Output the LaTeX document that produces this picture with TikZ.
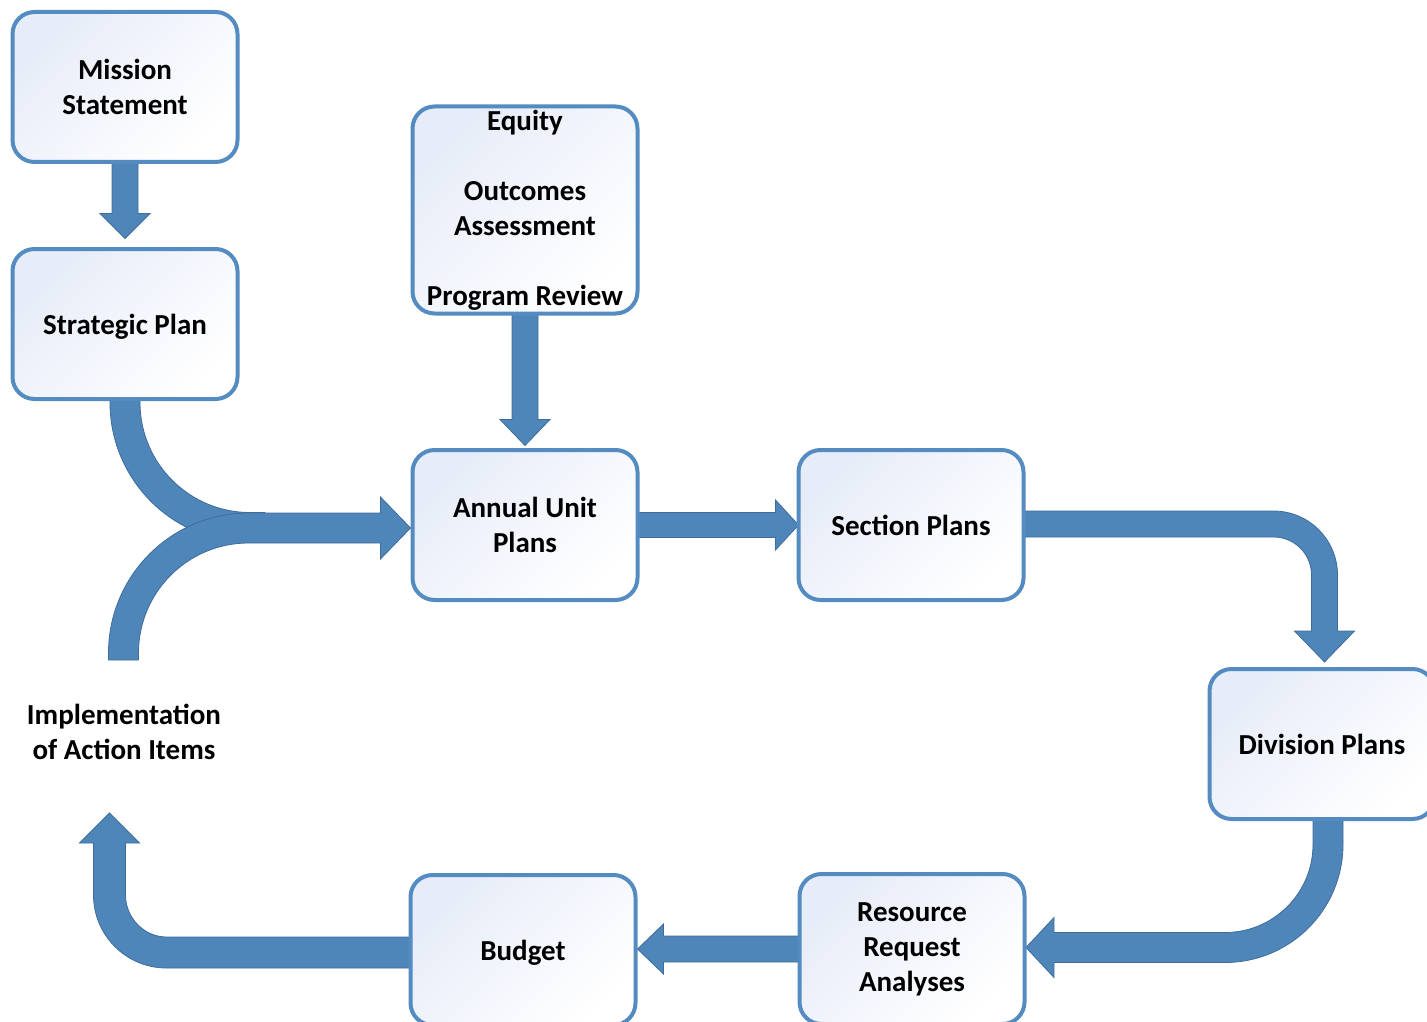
\documentclass[tikz,border=0pt]{standalone}
\usepackage{fontspec}
\setmainfont{Carlito}
\usetikzlibrary{calc}
\definecolor{arrowfill}{RGB}{79,134,186}
\definecolor{arrowedge}{RGB}{62,108,155}
\definecolor{boxedge}{RGB}{84,139,192}
\definecolor{boxtint}{RGB}{230,236,248}
\pgfdeclarelayer{bg}
\pgfsetlayers{bg,main}
\begin{document}
\begin{tikzpicture}[x=1pt,y=-1pt,
  lbl/.style={align=center, font=\fontsize{29}{35}\selectfont\bfseries, inner sep=0pt},
  box/.style={lbl, draw=boxedge, line width=4pt, rounded corners=22pt,
    minimum width=225pt, minimum height=150pt,
    top color=boxtint, bottom color=white, shading angle=45},
  blk/.style={fill=arrowfill, draw=arrowedge, line width=0.8pt, line join=miter}]
\useasboundingbox (0,0) rectangle (1427,1022);
\clip (0,0) rectangle (1427,1022);

% boxes
\node[box] (ms)  at (125,87)  {Mission\\Statement};
\node[box, text depth=0pt] (sp)  at (125,324) {Strategic Plan};
\node[box, minimum height=207pt] (eq) at (525,210)
  {Equity\\[35pt]Outcomes\\Assessment\\[35pt]Program Review};
\node[box] (au)  at (525,525) {Annual Unit\\Plans};
\node[box] (sec) at (911,525) {Section Plans};
\node[box] (div) at (1322,744) {Division Plans};
\node[box] (res) at (912,949) {Resource\\Request\\Analyses};
\node[box, text depth=0pt] (bud) at (523,950) {Budget};
\node[lbl] (impl) at (124,732) {Implementation\\of Action Items};

\begin{pgfonlayer}{bg}
% Mission -> Strategic
\begin{scope}[shift={(ms.south)}]
\path[blk] (-13,-2) -- (-13,49.5) -- (-25,49.5) -- (0,74.5) -- (25,49.5) -- (13,49.5) -- (13,-2) -- cycle;
\end{scope}
% Equity -> Annual
\begin{scope}[shift={(eq.south)}]
\path[blk] (-13,-2) -- (-13,104) -- (-25,104) -- (0,130) -- (25,104) -- (13,104) -- (13,-2) -- cycle;
\end{scope}
% Strategic -> Annual (curved band joining)
\begin{scope}[shift={(sp.south)}]
\path[blk] (-15,-3.5) -- (-15,1.5) .. controls (-15,78.8) and (47.7,141.5) .. (125,141.5)
  -- (140,141.5) -- (140,111.5) -- (125,111.5)
  .. controls (64.25,111.5) and (15,62.25) .. (15,1.5) -- (15,-3.5) -- cycle;
\end{scope}
% Implementation -> Annual
\begin{scope}[shift={(au.west)}]
\path[blk] (-302,135) -- (-302,128) .. controls (-302,50.7) and (-239.3,-12) .. (-162,-12)
  -- (-30,-12) -- (-30,-28) -- (0,3) -- (-30,34) -- (-30,18) -- (-162,18)
  .. controls (-222.75,18) and (-272,67.25) .. (-272,128) -- (-272,135) -- cycle;
\end{scope}
% Annual -> Section
\begin{scope}[shift={(au.east)}]
\path[blk] (-2,-12.5) -- (136,-12.5) -- (136,-25) -- (159,0) -- (136,25) -- (136,12.5) -- (-2,12.5) -- cycle;
\end{scope}
% Section -> Division
\begin{scope}[shift={(sec.east)}]
\path[blk] (-2,-14) -- (248,-14) .. controls (283.3,-14) and (312,14.7) .. (312,50)
  -- (312,106) -- (329,106) -- (299,137) -- (269,106) -- (286,106) -- (286,50)
  .. controls (286,29) and (269,12) .. (248,12) -- (-2,12) -- cycle;
\end{scope}
% Division -> Resource
\begin{scope}[shift={(div.south)}]
\path[blk] (-9,-2) -- (-9,23.5) .. controls (-9,72.1) and (-48.4,111.5) .. (-97,111.5)
  -- (-268,111.5) -- (-268,96.5) -- (-296,126.5) -- (-268,156.5) -- (-268,141.5) -- (-97,141.5)
  .. controls (-31.8,141.5) and (21,88.7) .. (21,23.5) -- (21,-2) -- cycle;
\end{scope}
% Resource -> Budget
\begin{scope}[shift={(res.west)}]
\path[blk] (2,-13) -- (-134,-13) -- (-134,-25) -- (-160,0) -- (-134,25) -- (-134,13) -- (2,13) -- cycle;
\end{scope}
% Budget -> Implementation
\begin{scope}[shift={(bud.west)}]
\path[blk] (2,-13) -- (-242,-13) .. controls (-264.6,-13) and (-283,-32.4) .. (-283,-55)
  -- (-283,-107) -- (-269,-107) -- (-299,-137) -- (-329,-107) -- (-315,-107) -- (-315,-55)
  .. controls (-315,-14.7) and (-282.3,18) .. (-242,18) -- (2,18) -- cycle;
\end{scope}
\end{pgfonlayer}
\end{tikzpicture}
\end{document}
